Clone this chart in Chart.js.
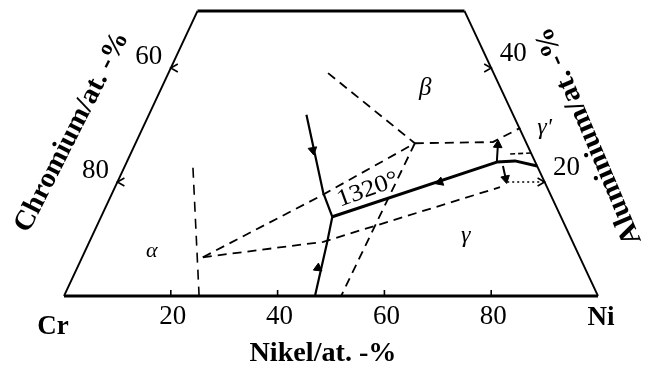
<!DOCTYPE html>
<html><head><meta charset="utf-8">
<script src="https://cdn.jsdelivr.net/npm/chart.js@4"></script>
<style>html,body{margin:0;padding:0;background:#fff}canvas{display:block}</style>
</head><body>
<canvas id="c" width="662" height="376"></canvas>
<script>
// All points are compositions [Ni at.%, Al at.%]; Cr = 100 - Ni - Al
const baseEdge = [[0,0],[100,0]];
const topEdge = [[0,50],[50,50]];
const leftEdge = [[0,0],[0,50]];
const rightEdge = [[100,0],[50,50]];

const solidUpper = [[29.5,31.8],[39.5,18.1],[43.3,13.9]];
const solidLower = [[43.3,13.9],[44.6,9.3],[47.0,0]];
const valleyLine = [[43.3,13.9],[69.3,23.5],[72.6,23.7],[77.2,22.8]];
const smallUp = [[69.3,23.5],[68.0,26.5]];
const smallDown = [[70.8,22.8],[72.6,20.35]];

const dashBeta = [[29.9,39.1],[52.3,26.8]];
const dashQRight = [[52.3,26.8],[66.8,27.0],[70.7,29.5]];
const dashUpperTie = [[22.6,6.8],[39.2,17.5],[52.3,26.8]];
const dashLowerTie = [[22.6,6.8],[43.8,9.5],[72.1,19.1]];
const dashQBase = [[52.3,26.8],[51.9,0]];
const dashAlpha = [[12.9,22.5],[25.3,0]];
const dashSmall = [[71.1,24.9],[74.9,25.1]];
const dotRight = [[73.0,20.0],[80.1,20.0]];

// arrows: [from, to] (head drawn at "to")
const arrowFrom = [[29.5,31.8],[47.0,0],[69.3,23.5],[69.3,23.5],[70.8,22.8]];
const arrowTo   = [[33.8,25.6],[45.1,4.9],[60.4,20.0],[68.0,26.5],[72.4,20.6]];

const baseTicks = [20,40,60,80];
const leftTickAl = [40,20];
const leftTickLabels = ['60','80'];
const rightTickAl = [40,20];
const rightTickLabels = ['40','20'];
const cornerLabels = ['Cr','Ni'];
const phaseNames = ['α','β','γ',"γ'"];
const phasePos = [[12.5,7.9],[49.4,36.5],[70.0,10.5],[75.2,29.6]];
const tempLabel = '1320°';
const tempPos = [47.6,18.6];
const axisTitles = ['Nikel/at. -%','Chromium/at. -%','Aluminium/at. -%'];

const toXY = p => ({x: p[0] + p[1]/2, y: p[1]});

function lineDs(pts, w, dash){
  return {data: pts.map(toXY), showLine:true, borderColor:'#000', backgroundColor:'#000',
    borderWidth:w, borderDash:dash||[], pointRadius:0, tension:0, clip:false,
    borderCapStyle:'butt', borderJoinStyle:'round'};
}
const D = [9,6];
const datasets = [
  lineDs(baseEdge,3), lineDs(topEdge,3), lineDs(leftEdge,1.8), lineDs(rightEdge,1.8),
  lineDs(solidUpper,2.2), lineDs(solidLower,2.2), lineDs(valleyLine,3),
  lineDs(smallUp,2), lineDs(smallDown,2),
  lineDs(dashBeta,1.8,D), lineDs(dashQRight,1.8,D), lineDs(dashUpperTie,1.8,D),
  lineDs(dashLowerTie,1.8,D), lineDs(dashQBase,1.8,D), lineDs(dashAlpha,1.6,[10,7]),
  lineDs(dashSmall,1.6,[5,3]), lineDs(dotRight,1.6,[2,3]),
  {data: arrowTo.map(toXY), showLine:false, pointStyle:'triangle', pointRadius:5,
   backgroundColor:'#000', borderColor:'#000', borderWidth:1, clip:false,
   rotation: ctx => {
     const i = ctx.dataIndex, s = ctx.chart.scales;
     if (!s.x || i === undefined) return 0;
     const a = toXY(arrowFrom[i]), b = toXY(arrowTo[i]);
     const dx = s.x.getPixelForValue(b.x) - s.x.getPixelForValue(a.x);
     const dy = s.y.getPixelForValue(b.y) - s.y.getPixelForValue(a.y);
     return Math.atan2(dx, -dy) * 180 / Math.PI;
   }}
];

function drawText(ctx, str, cx, cy, font, rot, width){
  ctx.save(); ctx.translate(cx, cy); ctx.rotate((rot||0) * Math.PI/180);
  ctx.font = font; ctx.textAlign='center'; ctx.textBaseline='middle'; ctx.fillStyle='#000';
  if (width){ const w = ctx.measureText(str).width; ctx.scale(width / w, 1); }
  ctx.fillText(str, 0, 0); ctx.restore();
}

const decor = {
  id:'decor',
  afterDatasetsDraw(chart){
    const {ctx, scales:{x, y}} = chart;
    const P = (ni, al) => [x.getPixelForValue(ni + al/2), y.getPixelForValue(al)];
    ctx.save(); ctx.strokeStyle='#000'; ctx.lineWidth=1.6;
    // base ticks
    baseTicks.forEach(v => { const [px,py] = P(v,0); ctx.beginPath(); ctx.moveTo(px,py); ctx.lineTo(px,py-6); ctx.stroke(); });
    // side ticks
    leftTickAl.forEach(al => { const [px,py] = P(0,al); ctx.beginPath(); ctx.moveTo(px+7,py-4); ctx.lineTo(px,py); ctx.lineTo(px+7,py+4); ctx.stroke(); });
    rightTickAl.forEach(al => { const [px,py] = P(100-al,al); ctx.beginPath(); ctx.moveTo(px-7,py-4); ctx.lineTo(px,py); ctx.lineTo(px-7,py+4); ctx.stroke(); });
    ctx.restore();
    const tickFont = '27px "Liberation Serif"';
    baseTicks.forEach(v => { const [px,py] = P(v,0); drawText(ctx, String(v), px+2, py+21, tickFont); });
    leftTickAl.forEach((al,i) => { const [px,py] = P(0,al); drawText(ctx, leftTickLabels[i], px-22, py-11, tickFont); });
    rightTickAl.forEach((al,i) => { const [px,py] = P(100-al,al); drawText(ctx, rightTickLabels[i], px+22, py-14, tickFont); });
    // corners
    let [cx0,cy0] = P(0,0); drawText(ctx, cornerLabels[0], cx0-11, cy0+31, 'bold 27px "Liberation Serif"');
    let [cx1,cy1] = P(100,0); drawText(ctx, cornerLabels[1], cx1+3, cy1+22, 'bold 27px "Liberation Serif"');
    // phases
    const pf = ['italic 22px "Liberation Serif"','italic 25px "Liberation Serif"','italic 24px "Liberation Serif"','italic 24px "Liberation Serif"'];
    phaseNames.forEach((n,i) => { const [px,py] = P(phasePos[i][0], phasePos[i][1]); drawText(ctx, n, px, py, pf[i]); });
    const [tx,ty] = P(tempPos[0], tempPos[1]);
    drawText(ctx, tempLabel, tx, ty, '24px "Liberation Serif"', -20, 64);
    // axis titles
    const tf = 'bold 28px "Liberation Serif"';
    drawText(ctx, axisTitles[0], 323, 354, tf, 0, 147);
    drawText(ctx, axisTitles[1], 72, 132, tf, -63, 221);
    drawText(ctx, axisTitles[2], 589, 136, tf, -113, 234);
  }
};

new Chart(document.getElementById('c'), {
  type:'scatter',
  data:{datasets},
  options:{
    responsive:false, animation:false, devicePixelRatio:1,
    layout:{padding:{left:64, right:64, top:11, bottom:80}},
    scales:{
      x:{type:'linear', min:0, max:100, display:false},
      y:{type:'linear', min:0, max:50, display:false}
    },
    plugins:{legend:{display:false}, tooltip:{enabled:false}},
    events:[]
  },
  plugins:[decor]
});
</script>
</body></html>
